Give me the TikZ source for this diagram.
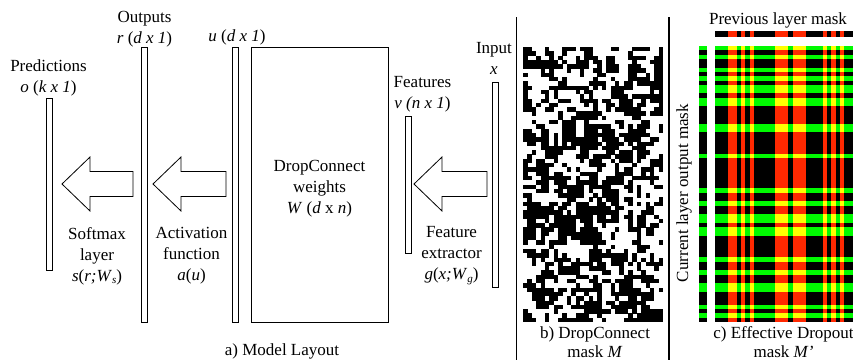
\documentclass[tikz,border=0pt]{standalone}
\usepackage{fontspec}
\setmainfont{Liberation Serif}
\usepackage{tikz}
\definecolor{maskgreen}{RGB}{0,250,0}
\definecolor{maskred}{RGB}{255,40,0}
\definecolor{maskyellow}{RGB}{255,255,0}
\newcommand\lowidx[1]{\raisebox{-0.35ex}{\fontsize{11}{11}\selectfont\itshape #1}}
\tikzset{
  lbl/.style={font=\fontsize{17}{21}\selectfont, align=center, inner sep=0pt, anchor=north},
  caption/.style={lbl, font=\fontsize{17}{19}\selectfont},
  bar/.style={draw, line width=0.8pt, fill=white},
  blockarr/.style={draw, line width=0.8pt, fill=white, line join=miter},
  sep/.style={line width=1.3pt}
}

\begin{document}
\begin{tikzpicture}[x=1pt, y=-1pt]
\useasboundingbox (0, 0) rectangle (853, 360);
% a) model layout
\draw [bar] (46, 98) rectangle +(6, 172);
\node [lbl] (pred) at (48.5, 59) {Predictions\\\textit{o} (\textit{k x 1})};
\draw [bar] (141, 47) rectangle +(6.5, 275);
\node [lbl] (outr) at (144.5, 11.5) {Outputs\\\textit{r} (\textit{d x 1})};
\draw [bar] (232, 47) rectangle +(6.5, 275);
\node [lbl] (outu) at (237, 29) {\textit{u} (\textit{d x 1})};
\draw [bar] (251, 47) rectangle (388, 322);
\node [lbl] (dcw) at (319.5, 160) {DropConnect\\weights\\\textit{W} (\textit{d} x \textit{n})};
\draw [bar] (405, 116) rectangle +(6.5, 137);
\node [lbl] (feat) at (422.5, 76) {Features\\\textit{v (n x 1})};
\draw [bar] (492, 82) rectangle +(6.5, 205);
\node [lbl] (inp) at (494, 42) {Input\\\textit{x}};
\foreach \tip/\tail in {62/133, 153/226, 414/487}
  \draw [blockarr] (\tip, 184) -- (\tip+28, 157) -- (\tip+28, 171.5) -- (\tail, 171.5)
    -- (\tail, 196.5) -- (\tip+28, 196.5) -- (\tip+28, 211) -- cycle;
\node [lbl] (soft) at (97, 227) {Softmax\\layer\\\textit{s}(\textit{r;W}\lowidx{s})};
\node [lbl] (act) at (191.5, 227) {Activation\\function\\\textit{a}(\textit{u})};
\node [lbl] (fext) at (451.5, 226) {Feature\\extractor\\\textit{g}(\textit{x;W}\lowidx{g})};
\node [lbl] (capa) at (282, 343) {a) Model Layout};
\draw [sep] (516.5, 17) -- (516.5, 360);
\draw [sep] (669, 17) -- (669, 360);
% b) dropconnect mask, random bits with a little clumping
\fill [white] (523, 47) rectangle (663, 322);
\pgfmathsetseed{2013}
\foreach \i in {0,...,31} {\expandafter\xdef\csname up\i\endcsname{1}}
\gdef\lastv{1}
\foreach \j in {0,...,63}
  \foreach \i in {0,...,31} {
    \pgfmathsetmacro\pick{rnd}
    \ifdim\pick pt<0.18pt \edef\val{\csname up\i\endcsname}%
    \else\ifdim\pick pt<0.36pt \edef\val{\lastv}%
    \else\ifdim\pick pt<0.69pt \def\val{1}%
    \else \def\val{0}\fi\fi\fi
    \ifnum\val=1
      \fill [black] (523+\i*4.375, 47+\j*4.297) rectangle +(4.5, 4.4);
    \fi
    \expandafter\xdef\csname up\i\endcsname{\val}
    \xdef\lastv{\val}
  }
\node [caption] (capb) at (595, 326.5) {b) DropConnect\\mask \textit{M}};
% c) effective dropout mask
\fill [black] (715, 46) rectangle (853, 322);
\fill [black] (715, 30.5) rectangle +(138, 6);
\fill [black] (699, 46) rectangle +(7.5, 276);
\foreach \r in {0,2,5,7,9,10,12,13,18,19,25,33,36,39,40,42,43,49,52,55,56,60,62} {
  \fill [maskgreen] (715, 46+\r*4.3125) rectangle +(138, 4.3125);
  \fill [maskgreen] (699, 46+\r*4.3125) rectangle +(7.5, 4.3125);
}
\foreach \c in {3,4,6,8,14,15,16,18,19,20,25,27,29} {
  \fill [maskred] (715+\c*4.3125, 46) rectangle +(4.3125, 276);
  \fill [maskred] (715+\c*4.3125, 30.5) rectangle +(4.3125, 6);
}
\foreach \r in {0,2,5,7,9,10,12,13,18,19,25,33,36,39,40,42,43,49,52,55,56,60,62}
  \foreach \c in {3,4,6,8,14,15,16,18,19,20,25,27,29}
    \fill [maskyellow] (715+\c*4.3125, 46+\r*4.3125) rectangle +(4.3125, 4.3125);
\node [lbl] (prevm) at (778, 12.5) {Previous layer mask};
\node [lbl, anchor=base, rotate=90] (curm) at (688, 193) {Current layer output mask};
\node [caption] (capc) at (783.5, 326.5) {c) Effective Dropout\\mask \textit{M’}};
\end{tikzpicture}
\end{document}
